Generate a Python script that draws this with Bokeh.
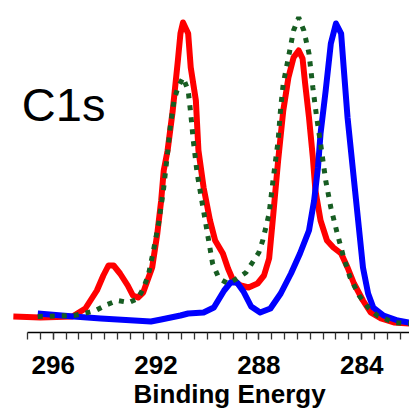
import numpy as np
from bokeh.plotting import figure
from bokeh.models import Range1d, FixedTicker, Label, Title
from bokeh.embed import file_html
from bokeh.resources import INLINE

# Binding energy (eV) and intensity (arb. units)
red_e = [297.55, 296.5, 295.25, 294.75, 294.3, 294.05, 293.85, 293.65, 293.4, 293.1, 292.9, 292.7, 292.5,
         292.15, 291.95, 291.8, 291.7, 291.55, 291.35, 291.15, 291.05, 290.95, 290.75, 290.65, 290.45, 290.35,
         290.15, 289.9, 289.7, 289.4, 289.2, 289.0, 288.7, 288.4, 288.05, 287.8, 287.6, 287.45, 287.25, 287.05,
         286.85, 286.65, 286.45, 286.3, 286.2, 286.05, 285.9, 285.8, 285.6, 285.35, 285.1, 284.8, 284.55, 284.3,
         283.95, 283.65, 283.25, 282.75, 282.15, 281.9]
red_i = [16, 15, 16, 24, 42, 57, 67, 67, 59, 47, 37, 35, 40,
         65, 99, 132, 162, 182, 222, 272, 299, 310, 299, 265, 232, 182,
         145, 112, 92, 79, 64, 52, 47, 45, 49, 57, 74, 115, 172, 222,
         255, 275, 282, 274, 249, 215, 175, 142, 112, 92, 85, 79, 65, 49,
         32, 20, 14, 10, 9, 9]

green_e = [296.6, 295.2, 294.8, 294.35, 293.9, 293.5, 293.05, 292.7, 292.5, 292.3, 292.1, 291.9, 291.7, 291.55,
           291.45, 291.3, 291.15, 290.95, 290.75, 290.65, 290.55, 290.4, 290.2, 290.0, 289.8, 289.55, 289.2,
           288.85, 288.5, 288.25, 288.0, 287.85, 287.6, 287.45, 287.25, 287.15, 287.05, 286.85, 286.65, 286.45,
           286.25, 286.05, 285.9, 285.75, 285.6, 285.4, 285.2, 284.95, 284.7, 284.45, 284.1, 283.75, 283.4,
           282.75, 282.15, 281.9]
green_i = [16, 17, 19, 22, 28, 32, 30, 34, 44, 57, 82, 109, 145, 180,
           205, 232, 245, 255, 242, 219, 192, 159, 129, 99, 69, 54, 49,
           54, 60, 70, 80, 92, 119, 152, 192, 225, 249, 275, 302, 315,
           302, 279, 245, 215, 189, 152, 125, 99, 75, 55, 37, 25, 17,
           10, 9, 9]

blue_e = [296.6, 295.2, 294.15, 292.2, 291.8, 291.05, 290.75, 290.15, 289.75, 289.35, 289.1, 288.85, 288.6,
          288.3, 287.95, 287.55, 287.15, 286.75, 286.4, 286.05, 285.85, 285.7, 285.6, 285.4, 285.2, 285.0,
          284.8, 284.7, 284.55, 284.35, 284.15, 283.95, 283.75, 283.55, 283.15, 282.6, 282.15, 281.9]
blue_i = [19, 16, 14, 11, 13, 17, 19, 20, 25, 42, 50, 50, 41,
          26, 20, 24, 39, 59, 79, 102, 132, 165, 199, 242, 289, 309,
          299, 265, 215, 165, 115, 65, 39, 25, 17, 12, 10, 10]

major_ticks = [296, 292, 288, 284]

p = figure(width=409, height=415, output_backend="svg", toolbar_location=None,
           x_range=Range1d(298.05, 282.14), y_range=Range1d(0, 332),
           min_border_left=0, min_border_right=0, min_border_top=0, min_border_bottom=83,
           y_axis_location=None)
p.outline_line_color = None
p.grid.visible = False
p.background_fill_color = "white"
p.border_fill_color = "white"

p.line(red_e, red_i, line_color="#ff0000", line_width=6, line_join="round")
p.line(blue_e, blue_i, line_color="#0000ff", line_width=6, line_join="round")
p.line(green_e, green_i, line_color="#175d22", line_width=5, line_dash="5 7")

ax = p.xaxis[0]
ax.bounds = (282.14, 297)
ax.ticker = FixedTicker(ticks=major_ticks, minor_ticks=list(np.arange(282.5, 297.01, 0.5)))
ax.axis_line_color = "black"
ax.axis_line_width = 1.5
ax.major_tick_line_color = "#333333"
ax.minor_tick_line_color = "#333333"
ax.major_tick_line_width = 1.3
ax.minor_tick_line_width = 1.3
ax.major_tick_in = 0
ax.major_tick_out = 7
ax.minor_tick_in = 0
ax.minor_tick_out = 7
ax.major_label_text_font = "Liberation Sans"
ax.major_label_text_font_style = "bold"
ax.major_label_text_font_size = "26px"
ax.major_label_text_color = "black"
ax.major_label_standoff = 16

p.add_layout(Label(x=297.22, y=228, text="C1s", text_font="Liberation Sans",
                   text_font_size="47px", text_color="black",
                   text_align="left", text_baseline="alphabetic"))
p.add_layout(Title(text="Binding Energy", align="left", offset=133, standoff=0,
                   vertical_align="bottom", text_line_height=1.3,
                   text_font="Liberation Sans", text_font_size="26px",
                   text_font_style="bold", text_color="black"), "below")

open("out.html", "w").write(file_html(p, INLINE))
